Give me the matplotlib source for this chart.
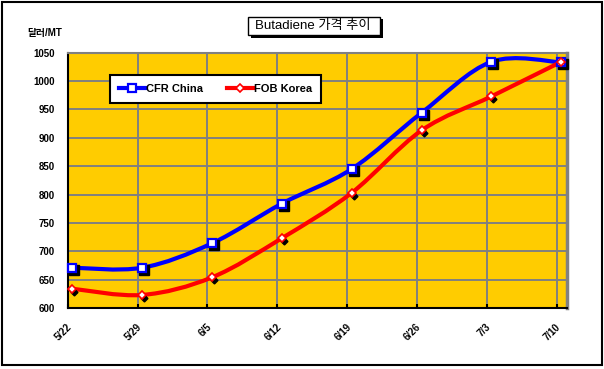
import numpy as np
import matplotlib.pyplot as plt
from matplotlib.path import Path
from matplotlib.patches import PathPatch, Rectangle
from matplotlib.lines import Line2D
import matplotlib.transforms as mtransforms

plt.rcParams['font.family'] = ['Liberation Sans', 'Noto Sans CJK KR', 'DejaVu Sans']

dates = ['5/22', '5/29', '6/5', '6/12', '6/19', '6/26', '7/3', '7/10']
cfr_china = [671, 671, 714, 784, 845, 944, 1034, 1033]
fob_korea = [634, 623, 654, 723, 803, 913, 973, 1034]
yticks = list(range(600, 1051, 50))

W, H = 604, 369
fig = plt.figure(figsize=(W / 100, H / 100), dpi=100)
ax = fig.add_axes([67.7 / W, 1 - 308 / H, (566.7 - 67.7) / W, (308 - 52.7) / H])
ax.set_facecolor('#FFCC00')

x = np.arange(len(dates))


def smooth_path(xs, ys):
    # excel style smoothed line: bezier segments through the points
    pts = np.column_stack([xs, ys]).astype(float)
    n = len(pts)
    verts = [pts[0]]
    codes = [Path.MOVETO]
    for i in range(n - 1):
        p0 = pts[max(i - 1, 0)]
        p1 = pts[i]
        p2 = pts[i + 1]
        p3 = pts[min(i + 2, n - 1)]
        verts += [p1 + (p2 - p0) / 6, p2 - (p3 - p1) / 6, p2]
        codes += [Path.CURVE4] * 3
    return Path(verts, codes)


for ys, col in [(cfr_china, 'blue'), (fob_korea, 'red')]:
    ax.add_patch(PathPatch(smooth_path(x, ys), facecolor='none', edgecolor=col,
                           lw=3, zorder=3, capstyle='round', joinstyle='round'))

shadow = mtransforms.offset_copy(ax.transData, fig=fig, x=2, y=-2, units='dots')
ax.plot(x, cfr_china, ls='none', marker='s', ms=6.5, mfc='black', mec='black',
        transform=shadow, zorder=4, clip_on=False)
ax.plot(x, cfr_china, ls='none', marker='s', ms=6, mfc='white', mec='blue',
        mew=1.6, zorder=5, clip_on=False)
shadow2 = mtransforms.offset_copy(ax.transData, fig=fig, x=2, y=-3, units='dots')
ax.plot(x, fob_korea, ls='none', marker='D', ms=3.5, mfc='black', mec='black',
        transform=shadow2, zorder=4, clip_on=False)
ax.plot(x, fob_korea, ls='none', marker='D', ms=4.5, mfc='white', mec='red',
        mew=1.2, zorder=5, clip_on=False)

ax.set_xlim(-0.065, 7.078)
ax.set_ylim(600, 1050)
ax.set_yticks(yticks)
ax.set_yticklabels([str(v) for v in yticks], fontsize=7, fontweight='bold')
ax.set_xticks(x + 0.02)
ax.set_xticklabels(dates, fontsize=7, fontweight='bold', rotation=45, ha='right')
ax.set_xticks(x - 0.065, minor=True)
ax.tick_params(axis='x', which='major', length=0, pad=10)
ax.tick_params(axis='x', which='minor', direction='in', length=3, width=1.5, color='black')
ax.tick_params(axis='y', length=0, pad=9)
ax.set_axisbelow(True)
ax.yaxis.grid(True, color='#808080', lw=1.4)
ax.xaxis.grid(True, which='minor', color='#808080', lw=1.4)
ax.xaxis.grid(False, which='major')
ax.spines['left'].set_color('black')
ax.spines['left'].set_linewidth(1.5)
ax.spines['bottom'].set_color('black')
ax.spines['bottom'].set_linewidth(1.5)
ax.spines['top'].set_color('#808080')
ax.spines['top'].set_linewidth(1.5)
ax.spines['right'].set_color('#808080')
ax.spines['right'].set_linewidth(2.5)

handles = [Line2D([], [], color='blue', lw=3, marker='s', ms=6, mfc='white', mec='blue', mew=1.6),
           Line2D([], [], color='red', lw=3, marker='D', ms=4.5, mfc='white', mec='red', mew=1.2)]
leg = ax.legend(handles, ['CFR China', 'FOB Korea'], ncol=2, loc='center',
                bbox_to_anchor=(215.5 / W, 1 - 89 / H), bbox_transform=fig.transFigure,
                prop={'size': 8, 'weight': 'bold'}, frameon=True, fancybox=False,
                handlelength=2.3, handletextpad=0.1, columnspacing=2.2, borderpad=0.8)
leg.get_frame().set_edgecolor('black')
leg.get_frame().set_linewidth(1.5)
leg.get_frame().set_alpha(1)

fig.text(45 / W, 1 - 33 / H, '달러/MT', fontsize=7, fontweight='bold', ha='center', va='center')

# title box with shadow
fig.add_artist(Rectangle((250.5 / W, 1 - 37.5 / H), 132 / W, 18 / H,
                         transform=fig.transFigure, fc='black', ec='black', lw=0))
fig.add_artist(Rectangle((248.3 / W, 1 - 35 / H), 131.7 / W, 17.7 / H,
                         transform=fig.transFigure, fc='white', ec='black', lw=1))
fig.text(313 / W, 1 - 26 / H, 'Butadiene 가격 추이', fontsize=9.5, ha='center', va='center')

fig.add_artist(Rectangle((1.5 / W, 1 - 364.5 / H), 600.5 / W, 363 / H,
                         transform=fig.transFigure, fill=False, ec='black', lw=1.5))

fig.savefig('out.png', dpi=100)
